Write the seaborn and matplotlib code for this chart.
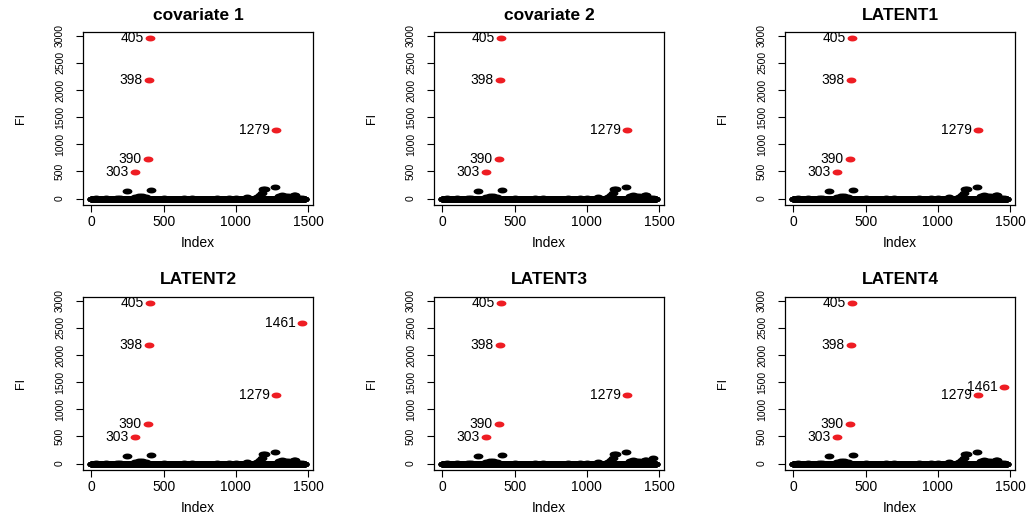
import numpy as np
import pandas as pd
import matplotlib
matplotlib.use("Agg")
import matplotlib.pyplot as plt
from matplotlib.path import Path
import seaborn as sns

# ---------------- data ----------------
panel_titles = ["covariate 1", "covariate 2", "LATENT1", "LATENT2", "LATENT3", "LATENT4"]
n_points = 1476

# small (black) values; all other indices ~0
bump_index = [30, 100, 180, 200, 250, 300, 330, 350, 380, 410, 500, 640, 700, 870, 950,
              1000, 1080, 1150, 1170, 1180, 1190, 1200, 1270, 1300, 1320, 1340, 1360,
              1400, 1410, 1440, 1460]
bump_value = [12, 8, 15, 20, 140, 25, 40, 45, 35, 150, 10, 15, 15, 12, 15,
              15, 30, 25, 60, 110, 180, 170, 220, 45, 60, 55, 40,
              70, 60, 20, 15]

# highlighted (red) points
red_index_common = [303, 390, 398, 405, 1279]
red_value_common = [486, 732, 2187, 2950, 1257]
extra_red = {"LATENT2": (1461, 2588), "LATENT4": (1461, 1405)}
extra_black = {"LATENT3": (1461, 110)}

y_ticks = [0, 500, 1000, 1500, 2000, 2500, 3000]
x_ticks = [0, 500, 1000, 1500]

# ---------------- style ----------------
sns.set_style("ticks")
plt.rcParams["font.family"] = ["Liberation Sans", "DejaVu Sans"]
plt.rcParams["text.color"] = "black"
plt.rcParams["axes.labelcolor"] = "black"
plt.rcParams["xtick.color"] = "black"
plt.rcParams["ytick.color"] = "black"

fig = plt.figure(figsize=(10.32, 5.16), dpi=100)
W, H = 1032, 516
lefts = [83, 434, 785]
tops = [32, 297]
bw, bh = 230, 173

# ellipse marker (reference dots are horizontally stretched)
t = np.linspace(0, 2 * np.pi, 60)
ell = Path(np.column_stack([np.cos(t), 0.6 * np.sin(t)]), closed=True)

for k, title in enumerate(panel_titles):
    r, c = divmod(k, 3)
    ax = fig.add_axes([lefts[c] / W, 1 - (tops[r] + bh) / H, bw / W, bh / H])
    vals = np.zeros(n_points)
    vals[np.array(bump_index) - 1] = bump_value
    if title in extra_black:
        i, v = extra_black[title]
        vals[i - 1] = v
    rid = list(red_index_common)
    rv = list(red_value_common)
    if title in extra_red:
        i, v = extra_red[title]
        rid.append(i)
        rv.append(v)
    mask = np.ones(n_points, bool)
    mask[np.array(rid) - 1] = False
    df = pd.DataFrame({"Index": np.arange(1, n_points + 1), "FI": vals})
    sns.scatterplot(data=df[mask], x="Index", y="FI", ax=ax, color="black",
                    marker=ell, s=50, linewidth=0, legend=False)
    dr = pd.DataFrame({"Index": rid, "FI": rv})
    sns.scatterplot(data=dr, x="Index", y="FI", ax=ax, color="#EE1D23",
                    marker=ell, s=50, linewidth=0, legend=False, zorder=3)
    for i, v in zip(rid, rv):
        ax.annotate(str(i), (i, v), xytext=(-4.5, 0), textcoords="offset points",
                    ha="right", va="center", fontsize=10, color="black")
    ax.set_xlim(-58, 1535)
    ax.set_ylim(-118, 3068)
    ax.set_xticks(x_ticks)
    ax.set_yticks(y_ticks)
    ax.set_yticklabels([str(v) for v in y_ticks], rotation=90, va="center")
    ax.tick_params(axis="x", direction="out", length=5, width=0.8, labelsize=10, pad=2)
    ax.tick_params(axis="y", direction="out", length=5, width=0.8, labelsize=7.5, pad=8)
    for sp in ax.spines.values():
        sp.set_visible(True)
        sp.set_linewidth(0.9)
        sp.set_color("black")
    ax.set_title(title, fontsize=12.5, fontweight="bold", pad=9, color="black")
    ax.set_xlabel("Index", fontsize=10, labelpad=5)
    ax.set_ylabel("FI", fontsize=9, labelpad=20)

fig.savefig("out.png", dpi=100)
